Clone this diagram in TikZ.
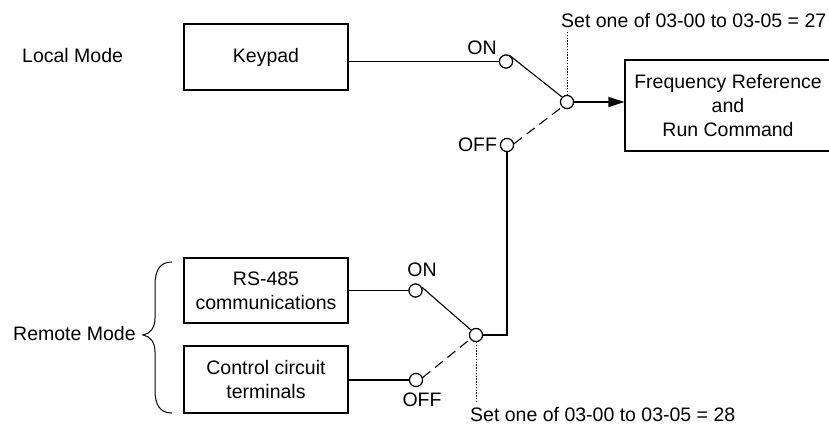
\documentclass[tikz,border=0pt]{standalone}
\usepackage{fontspec}
\setmainfont{Liberation Sans}
\usetikzlibrary{arrows.meta}
\begin{document}
\begin{tikzpicture}[x=1pt,y=-1pt,
  every node/.style={font=\fontsize{19.5}{24}\selectfont},
  box/.style={draw,line width=1.1pt,inner sep=0pt,align=center},
  sw/.style={circle,draw,line width=1.1pt,fill=white,inner sep=0pt,minimum size=13pt},
  lbl/.style={inner sep=0pt},
  wire/.style={line width=1.1pt},
  dash wire/.style={line width=1.1pt,dash pattern=on 10pt off 6pt},
  dot wire/.style={line width=1pt,dash pattern=on 1.4pt off 1.4pt}]
\useasboundingbox (0,0) rectangle (829,430);
% boxes
\node[box,minimum width=164pt,minimum height=66pt] (keypad) at (266,57) {Keypad};
\node[box,minimum width=164pt,minimum height=65pt] (rs) at (266,290.5) {RS-485\\communications};
\node[box,minimum width=164pt,minimum height=67pt] (ctrl) at (266,379.5) {Control circuit\\terminals};
\node[box,minimum width=206pt,minimum height=91pt] (freq) at (728,105.5) {Frequency Reference\\and\\Run Command};
% mode labels
\node[lbl,anchor=base west] (local) at (22,63) {Local Mode};
\node[lbl,anchor=base west] (remote) at (13,340) {Remote Mode};
% switches
\node[sw] (on1) at (506,61.5) {};
\node[sw] (off1) at (507,145) {};
\node[sw] (c1) at (567,102) {};
\node[sw] (on2) at (415.5,290.5) {};
\node[sw] (off2) at (416,380) {};
\node[sw] (c2) at (476,335) {};
% switch labels
\node[lbl] (on1l) at (482,48) {ON};
\node[lbl] (off1l) at (477.5,145) {OFF};
\node[lbl] (on2l) at (422,270) {ON};
\node[lbl] (off2l) at (422,400) {OFF};
\node[lbl,anchor=base west] (set27) at (561,28) {Set one of 03-00 to 03-05 = 27};
\node[lbl,anchor=base west] (set28) at (470,421) {Set one of 03-00 to 03-05 = 28};
\coordinate (d27) at (567,32);
\coordinate (d28) at (476,403);
% wires
\draw[wire] (keypad.east |- on1) -- (on1.west);
\draw[wire] (rs.east |- on2) -- (on2.west);
\draw[wire] (ctrl.east |- off2) -- (off2.west);
\draw[wire] (on1.60) -- (c1.135);
\draw[dash wire] (off1.10) -- (c1.225);
\draw[wire] (on2.30) -- (c2.135);
\draw[dash wire] (off2.20) -- (c2.215);
\draw[wire] (off1.south) -- (off1.south |- c2) -- (c2.east);
\draw[wire,-{Triangle[length=16pt,width=10pt]}] (c1.east) -- (c1 -| freq.west);
\draw[dot wire] (c1.north) -- (d27);
\draw[dot wire] (c2.south) -- (d28);
% redraw circles on top
\foreach \n in {on1,off1,c1,on2,off2,c2} {\draw[line width=1.1pt,fill=white] (\n) circle (6.5pt);}
% brace
\draw[line width=1pt] (172,262) .. controls (160,262) and (155,270) .. (155,285) -- (155,318)
  .. controls (155,328) and (150,334) .. (143,335)
  .. controls (150,336) and (155,342) .. (155,352) -- (155,390)
  .. controls (155,405) and (160,413) .. (172,413);
\end{tikzpicture}
\end{document}
